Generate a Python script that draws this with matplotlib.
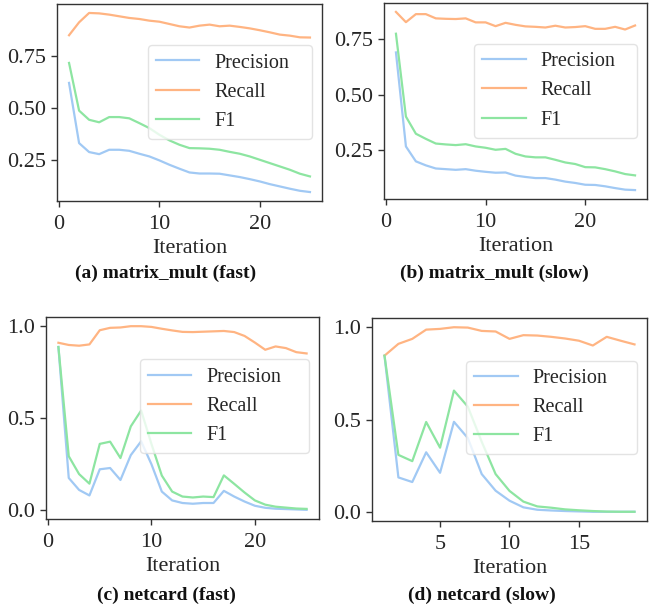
import matplotlib
matplotlib.use("Agg")
import matplotlib.pyplot as plt
from matplotlib.ticker import MultipleLocator

plt.rcParams['font.family'] = ['Liberation Serif', 'DejaVu Serif']

C_PREC = '#a1c9f4'
C_REC = '#ffb482'
C_F1 = '#8de5a1'

# (a) matrix_mult (fast)
iters_a = list(range(1, 26))
prec_a = [0.619, 0.330, 0.287, 0.277, 0.298, 0.298, 0.293, 0.279, 0.266, 0.247,
          0.226, 0.207, 0.189, 0.184, 0.184, 0.183, 0.175, 0.167, 0.157, 0.146,
          0.133, 0.122, 0.111, 0.101, 0.095]
rec_a = [0.848, 0.910, 0.955, 0.953, 0.947, 0.939, 0.931, 0.926, 0.918, 0.913,
         0.902, 0.891, 0.885, 0.894, 0.899, 0.891, 0.894, 0.888, 0.881, 0.872,
         0.862, 0.851, 0.846, 0.838, 0.837]
f1_a = [0.715, 0.486, 0.442, 0.430, 0.455, 0.455, 0.449, 0.426, 0.402, 0.370,
        0.343, 0.322, 0.306, 0.305, 0.303, 0.298, 0.288, 0.279, 0.266, 0.250,
        0.234, 0.218, 0.202, 0.183, 0.170]

# (b) matrix_mult (slow)
iters_b = list(range(1, 26))
prec_b = [0.690, 0.268, 0.201, 0.183, 0.169, 0.166, 0.163, 0.166, 0.159, 0.154,
          0.150, 0.151, 0.137, 0.131, 0.126, 0.126, 0.119, 0.110, 0.104, 0.096,
          0.095, 0.089, 0.081, 0.074, 0.072]
rec_b = [0.872, 0.826, 0.862, 0.862, 0.843, 0.841, 0.840, 0.843, 0.825, 0.825,
         0.808, 0.823, 0.814, 0.807, 0.805, 0.802, 0.810, 0.802, 0.804, 0.808,
         0.796, 0.796, 0.805, 0.793, 0.811]
f1_b = [0.774, 0.402, 0.325, 0.302, 0.281, 0.277, 0.274, 0.278, 0.268, 0.262,
        0.253, 0.257, 0.235, 0.223, 0.219, 0.219, 0.208, 0.196, 0.189, 0.175,
        0.174, 0.166, 0.156, 0.144, 0.138]

# (c) netcard (fast)
iters_c = list(range(1, 26))
prec_c = [0.887, 0.176, 0.111, 0.081, 0.223, 0.230, 0.165, 0.300, 0.375, 0.250,
          0.102, 0.054, 0.040, 0.036, 0.040, 0.040, 0.106, 0.075, 0.048, 0.025,
          0.014, 0.009, 0.007, 0.005, 0.003]
rec_c = [0.910, 0.898, 0.894, 0.901, 0.978, 0.991, 0.993, 1.000, 1.000, 0.996,
         0.986, 0.977, 0.969, 0.968, 0.970, 0.972, 0.974, 0.968, 0.947, 0.911,
         0.872, 0.890, 0.881, 0.859, 0.852]
f1_c = [0.887, 0.294, 0.197, 0.145, 0.361, 0.373, 0.284, 0.456, 0.542, 0.360,
        0.189, 0.102, 0.075, 0.070, 0.075, 0.072, 0.190, 0.144, 0.097, 0.054,
        0.031, 0.020, 0.015, 0.010, 0.008]

# (d) netcard (slow)
iters_d = list(range(1, 20))
prec_d = [0.846, 0.187, 0.162, 0.323, 0.212, 0.488, 0.400, 0.205, 0.115, 0.061,
          0.025, 0.012, 0.008, 0.005, 0.003, 0.001, 0.001, 0.001, 0.001]
rec_d = [0.846, 0.910, 0.937, 0.987, 0.991, 1.000, 0.998, 0.980, 0.977, 0.937,
         0.957, 0.955, 0.948, 0.939, 0.927, 0.901, 0.948, 0.927, 0.907]
f1_d = [0.846, 0.309, 0.275, 0.487, 0.348, 0.657, 0.570, 0.380, 0.205, 0.114,
        0.056, 0.030, 0.023, 0.014, 0.009, 0.005, 0.002, 0.001, 0.001]

captions = ['(a) matrix_mult (fast)', '(b) matrix_mult (slow)',
            '(c) netcard (fast)', '(d) netcard (slow)']

W, H = 655, 609
fig = plt.figure(figsize=(W / 100, H / 100), dpi=100)

def rect(l, r, t, b):
    return [l / W, 1 - b / H, (r - l) / W, (b - t) / H]

rects = [rect(57, 322, 4, 201), rect(384, 647, 3, 199),
         rect(46, 319, 317, 519), rect(372, 647, 318, 521)]
data = [(iters_a, prec_a, rec_a, f1_a), (iters_b, prec_b, rec_b, f1_b),
        (iters_c, prec_c, rec_c, f1_c), (iters_d, prec_d, rec_d, f1_d)]
ysteps = [0.25, 0.25, 0.5, 0.5]
xsteps = [10, 10, 10, 5]
cap_pos = [(166, 273), (494, 273), (166, 595), (482, 595)]

spine_col = '#333333'
for i in range(4):
    ax = fig.add_axes(rects[i])
    x, p, r, f = data[i]
    ax.plot(x, p, color=C_PREC, lw=1.6, label='Precision')
    ax.plot(x, r, color=C_REC, lw=1.6, label='Recall')
    ax.plot(x, f, color=C_F1, lw=1.6, label='F1')
    ax.yaxis.set_major_locator(MultipleLocator(ysteps[i]))
    ax.xaxis.set_major_locator(MultipleLocator(xsteps[i]))
    if i == 3:
        ax.set_xlim(0.1, 19.9)
    if i < 2:
        ax.yaxis.set_major_formatter(plt.FormatStrFormatter('%.2f'))
    else:
        ax.yaxis.set_major_formatter(plt.FormatStrFormatter('%.1f'))
    for s in ax.spines.values():
        s.set_color(spine_col)
        s.set_linewidth(1.0)
    ax.tick_params(axis='both', direction='out', length=4, width=1.0,
                   color=spine_col, labelsize=16, labelcolor='#262626')
    ax.tick_params(axis='x', pad=6)
    ax.tick_params(axis='y', pad=4)
    ax.set_xlabel('Iteration', fontsize=16, color='#262626', labelpad=4)
    leg = ax.legend(loc='upper left', bbox_to_anchor=(0.343, 0.79, 0.619, 0.0),
                    mode='expand', borderaxespad=0.0,
                    fontsize=14.5, frameon=True, handlelength=2.15,
                    handletextpad=0.75)
    leg.get_frame().set_edgecolor('#dddddd')
    for t in leg.get_texts():
        t.set_color('#262626')
    cx, cy = cap_pos[i]
    fig.text(cx / W, 1 - cy / H, captions[i], ha='center', va='center',
             fontsize=14, fontweight='bold', color='#111111')

fig.savefig('out.png', dpi=100)
